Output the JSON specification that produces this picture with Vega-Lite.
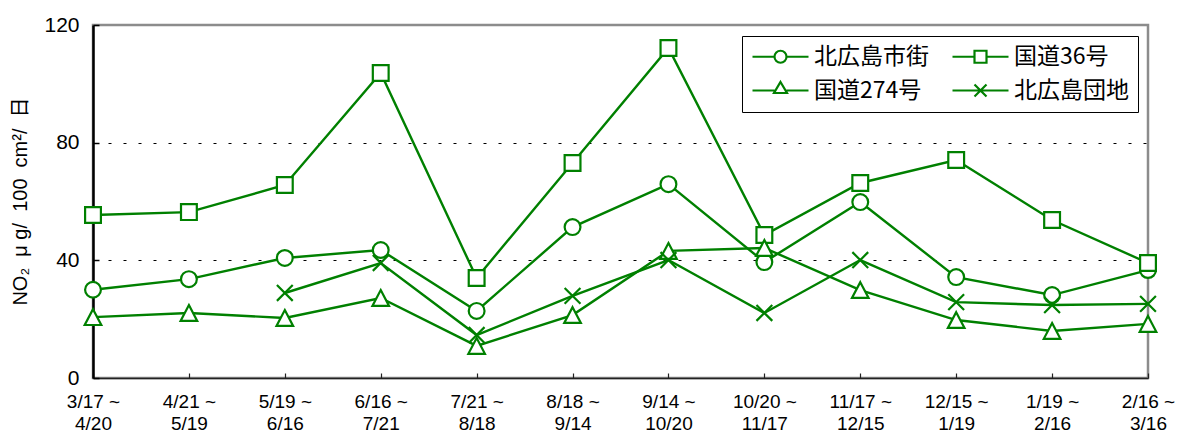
{
  "$schema": "https://vega.github.io/schema/vega-lite/v6.json",
  "autosize": {"type": "none"},
  "padding": {"left": 93, "top": 25, "right": 29, "bottom": 61},
  "width": 1055,
  "height": 353,
  "background": "white",
  "config": {
    "view": {"stroke": "#8c8c8c", "strokeWidth": 2.5},
    "font": "Liberation Sans, Noto Sans CJK JP"
  },
  "data": {
    "values": [
      {"period": "3/17 ~|4/20", "series": "北広島市街", "value": 30},
      {"period": "4/21 ~|5/19", "series": "北広島市街", "value": 33.6},
      {"period": "5/19 ~|6/16", "series": "北広島市街", "value": 40.8},
      {"period": "6/16 ~|7/21", "series": "北広島市街", "value": 43.5},
      {"period": "7/21 ~|8/18", "series": "北広島市街", "value": 22.8},
      {"period": "8/18 ~|9/14", "series": "北広島市街", "value": 51.3},
      {"period": "9/14 ~|10/20", "series": "北広島市街", "value": 65.9},
      {"period": "10/20 ~|11/17", "series": "北広島市街", "value": 39.4},
      {"period": "11/17 ~|12/15", "series": "北広島市街", "value": 59.8},
      {"period": "12/15 ~|1/19", "series": "北広島市街", "value": 34.3},
      {"period": "1/19 ~|2/16", "series": "北広島市街", "value": 28.2},
      {"period": "2/16 ~|3/16", "series": "北広島市街", "value": 36.7},

      {"period": "3/17 ~|4/20", "series": "国道36号", "value": 55.4},
      {"period": "4/21 ~|5/19", "series": "国道36号", "value": 56.4},
      {"period": "5/19 ~|6/16", "series": "国道36号", "value": 65.6},
      {"period": "6/16 ~|7/21", "series": "国道36号", "value": 103.7},
      {"period": "7/21 ~|8/18", "series": "国道36号", "value": 34},
      {"period": "8/18 ~|9/14", "series": "国道36号", "value": 73.1},
      {"period": "9/14 ~|10/20", "series": "国道36号", "value": 112.2},
      {"period": "10/20 ~|11/17", "series": "国道36号", "value": 48.6},
      {"period": "11/17 ~|12/15", "series": "国道36号", "value": 66.3},
      {"period": "12/15 ~|1/19", "series": "国道36号", "value": 74.1},
      {"period": "1/19 ~|2/16", "series": "国道36号", "value": 53.7},
      {"period": "2/16 ~|3/16", "series": "国道36号", "value": 39.1},

      {"period": "3/17 ~|4/20", "series": "国道274号", "value": 20.7},
      {"period": "4/21 ~|5/19", "series": "国道274号", "value": 22.1},
      {"period": "5/19 ~|6/16", "series": "国道274号", "value": 20.4},
      {"period": "6/16 ~|7/21", "series": "国道274号", "value": 27.2},
      {"period": "7/21 ~|8/18", "series": "国道274号", "value": 10.9},
      {"period": "8/18 ~|9/14", "series": "国道274号", "value": 21.4},
      {"period": "9/14 ~|10/20", "series": "国道274号", "value": 43.2},
      {"period": "10/20 ~|11/17", "series": "国道274号", "value": 44.2},
      {"period": "11/17 ~|12/15", "series": "国道274号", "value": 29.9},
      {"period": "12/15 ~|1/19", "series": "国道274号", "value": 19.7},
      {"period": "1/19 ~|2/16", "series": "国道274号", "value": 16},
      {"period": "2/16 ~|3/16", "series": "国道274号", "value": 18.4},

      {"period": "5/19 ~|6/16", "series": "北広島団地", "value": 28.9},
      {"period": "6/16 ~|7/21", "series": "北広島団地", "value": 39.1},
      {"period": "7/21 ~|8/18", "series": "北広島団地", "value": 14.6},
      {"period": "8/18 ~|9/14", "series": "北広島団地", "value": 27.9},
      {"period": "9/14 ~|10/20", "series": "北広島団地", "value": 40.1},
      {"period": "10/20 ~|11/17", "series": "北広島団地", "value": 22.1},
      {"period": "11/17 ~|12/15", "series": "北広島団地", "value": 40.1},
      {"period": "12/15 ~|1/19", "series": "北広島団地", "value": 25.8},
      {"period": "1/19 ~|2/16", "series": "北広島団地", "value": 24.8},
      {"period": "2/16 ~|3/16", "series": "北広島団地", "value": 25.2}
    ]
  },
  "encoding": {
    "x": {
      "field": "period",
      "type": "ordinal",
      "sort": null,
      "scale": {"type": "point", "padding": 0},
      "axis": {
        "title": null,
        "labelAngle": 0,
        "labelExpr": "split(datum.label, '|')",
        "labelFont": "Liberation Sans",
        "labelFontSize": 19,
        "labelColor": "black",
        "labelLineHeight": 22,
        "labelPadding": 19,
        "labelBaseline": "top",
        "domainColor": "#222",
        "domainWidth": 1.5,
        "tickColor": "#222",
        "tickSize": -5,
        "tickWidth": 1.2,
        "grid": false
      }
    },
    "y": {
      "field": "value",
      "type": "quantitative",
      "scale": {"domain": [0, 120], "nice": false, "zero": true},
      "axis": {
        "values": [0, 40, 80, 120],
        "title": "NO₂\u00a0\u00a0μ\u00a0g/\u00a0\u00a0100\u00a0\u00a0cm²/\u00a0\u00a0日",
        "titleFont": "Liberation Sans, Noto Sans CJK JP",
        "titleFontSize": 20,
        "titleFontWeight": "normal",
        "titleColor": "black",
        "titleAngle": -90,
        "titleX": -73,
        "titleY": 176,
        "titleAlign": "center",
        "titleBaseline": "middle",
        "labelFont": "Liberation Sans",
        "labelFontSize": 21,
        "labelColor": "black",
        "labelPadding": 20,
        "domainColor": "black",
        "domainWidth": 2.5,
        "tickColor": "black",
        "tickSize": -6,
        "tickWidth": 1.5,
        "grid": true,
        "gridColor": "black",
        "gridWidth": 1,
        "gridDash": [3, 12],
        "gridOpacity": {"condition": {"test": "datum.value == 40 || datum.value == 80", "value": 1}, "value": 0}
      }
    }
  },
  "layer": [
    {
      "mark": {"type": "line", "color": "#008000", "strokeWidth": 2.4},
      "encoding": {"detail": {"field": "series"}}
    },
    {
      "mark": {"type": "point", "filled": false, "fill": "white", "fillOpacity": 1, "stroke": "#008000", "strokeWidth": 2.2, "size": 250, "opacity": 1},
      "encoding": {
        "shape": {
          "field": "series",
          "type": "nominal",
          "scale": {
            "domain": ["北広島市街", "国道36号", "国道274号", "北広島団地"],
            "range": ["circle", "square", "M0,-1L1.05,1L-1.05,1Z", "M-1,-1L1,1M-1,1L1,-1"]
          },
          "legend": null
        }
      }
    },
    {
      "mark": {"type": "point", "filled": false, "stroke": "#008000", "strokeWidth": 2.2, "opacity": 0},
      "encoding": {
        "shape": {
          "field": "series",
          "type": "nominal",
          "scale": {
            "domain": ["北広島市街", "国道36号", "国道274号", "北広島団地"],
            "range": [
              "M-1,0H1.2M2.4,0H4.6M1.2,0A0.6,0.6,0,1,1,2.4,0A0.6,0.6,0,1,1,1.2,0Z",
              "M-1,0H1.2M2.4,0H4.6M1.2,-0.6H2.4V0.6H1.2Z",
              "M-1,0H1.2M2.4,0H4.6M1.8,-0.85L2.45,0.25L1.15,0.25Z",
              "M-1,0H4.6M1.2,-0.6L2.4,0.6M1.2,0.6L2.4,-0.6"
            ]
          },
          "legend": {
            "title": null,
            "orient": "none",
            "legendX": 649,
            "legendY": 11,
            "direction": "horizontal",
            "columns": 2,
            "columnPadding": 19,
            "rowPadding": 8,
            "padding": 9,
            "strokeColor": "black",
            "fillColor": "white",
            "symbolSize": 400,
            "symbolStrokeColor": "#008000",
            "symbolFillColor": "white",
            "symbolStrokeWidth": 2.2,
            "symbolOpacity": 1,
            "labelFont": "Noto Sans CJK JP",
            "labelFontSize": 23,
            "labelColor": "black",
            "labelOffset": 40,
            "labelLimit": 300
          }
        }
      }
    }
  ],
  "resolve": {"scale": {"shape": "independent"}}
}
